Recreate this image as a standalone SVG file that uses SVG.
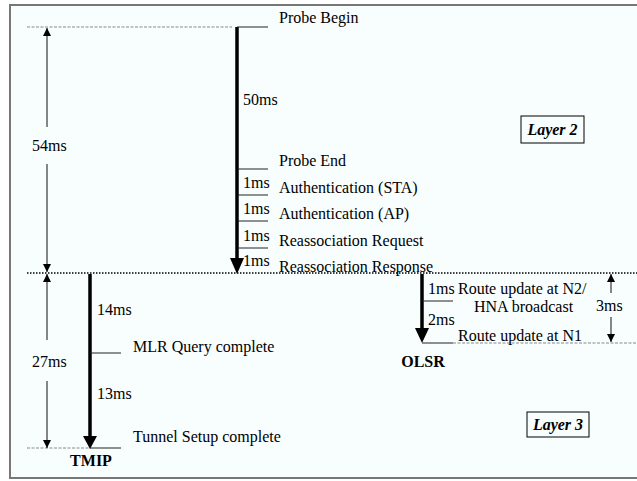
<svg xmlns="http://www.w3.org/2000/svg" width="637" height="481" viewBox="0 0 637 481" font-family="'Liberation Serif', 'Times New Roman', serif">
<defs>
<style>
text{font-family:'Liberation Serif','Times New Roman',serif;font-size:16px;fill:#000}
.b{font-weight:bold}
.bi{font-weight:bold;font-style:italic}
.tick{stroke:#222;stroke-width:1}
.dash{stroke:#888;stroke-width:1;stroke-dasharray:3,1.5}
.dim{stroke:#111;stroke-width:1;fill:none}
.thick{stroke:#000;stroke-width:3.5}
</style>
<marker id="dimHead" viewBox="0 0 8 10" refX="8" refY="5" markerWidth="8" markerHeight="10" markerUnits="userSpaceOnUse" orient="auto">
<path d="M0,1 L8,5 L0,9 Z" fill="#000"/>
</marker>
</defs>
<rect x="0" y="0" width="637" height="481" fill="#fff"/>
<rect x="10" y="5" width="640" height="473" fill="#f8fdfe" stroke="#777" stroke-width="2"/>

<g id="connectors">
<line class="dash" x1="27" y1="27" x2="232" y2="27"/>
<line x1="27" y1="273" x2="637" y2="273" stroke="#000" stroke-width="1.3" stroke-dasharray="1.5,1.5"/>
<line class="dash" x1="27" y1="448" x2="90" y2="448"/>
<line class="dash" x1="453" y1="343" x2="637" y2="343"/>
<line class="dim" x1="47" y1="127" x2="47" y2="28" marker-end="url(#dimHead)"/>
<line class="dim" x1="47" y1="164" x2="47" y2="272" marker-end="url(#dimHead)"/>
<line class="dim" x1="47" y1="340" x2="47" y2="274" marker-end="url(#dimHead)"/>
<line class="dim" x1="47" y1="381" x2="47" y2="448" marker-end="url(#dimHead)"/>
<line class="dim" x1="611" y1="293" x2="611" y2="274" marker-end="url(#dimHead)"/>
<line class="dim" x1="611" y1="317" x2="611" y2="342" marker-end="url(#dimHead)"/>
</g>

<g id="layer2-timeline">
<line class="thick" x1="237" y1="27" x2="237" y2="260"/>
<path d="M230,258 L244,258 L237,274 Z" fill="#000"/>
<line class="tick" x1="237" y1="27" x2="268" y2="27"/>
<line class="tick" x1="238" y1="169" x2="268" y2="169"/>
<line class="tick" x1="238" y1="195" x2="268" y2="195"/>
<line class="tick" x1="238" y1="221" x2="268" y2="221"/>
<line class="tick" x1="238" y1="248" x2="268" y2="248"/>
<text x="279" y="23">Probe Begin</text>
<text x="243" y="105">50ms</text>
<text x="279" y="166">Probe End</text>
<text x="243" y="188">1ms</text>
<text x="279" y="193">Authentication (STA)</text>
<text x="243" y="214">1ms</text>
<text x="279" y="219">Authentication (AP)</text>
<text x="243" y="241">1ms</text>
<text x="279" y="246">Reassociation Request</text>
<text x="243" y="266">1ms</text>
<text x="279" y="272">Reassociation Response</text>
</g>

<g id="dim-54ms"><text x="32" y="151">54ms</text></g>
<g id="dim-27ms"><text x="32" y="367">27ms</text></g>
<g id="dim-3ms"><text x="596" y="311">3ms</text></g>

<g id="layer2-label">
<rect x="521" y="116" width="63" height="27" fill="none" stroke="#000" stroke-width="1"/>
<text class="bi" x="552.5" y="135" text-anchor="middle">Layer 2</text>
</g>

<g id="tmip">
<line class="thick" x1="90" y1="274" x2="90" y2="438"/>
<path d="M83,436 L97,436 L90,449 Z" fill="#000"/>
<line class="tick" x1="90" y1="353" x2="121" y2="353"/>
<line class="tick" x1="90" y1="448" x2="121" y2="448"/>
<text x="97" y="315">14ms</text>
<text x="133" y="352">MLR Query complete</text>
<text x="97" y="399">13ms</text>
<text x="133" y="442">Tunnel Setup complete</text>
<text class="b" x="91" y="466" text-anchor="middle">TMIP</text>
</g>

<g id="olsr">
<line class="thick" x1="422" y1="274" x2="422" y2="330"/>
<path d="M415,328 L429,328 L422,343 Z" fill="#000"/>
<line class="tick" x1="422" y1="301" x2="453" y2="301"/>
<line class="tick" x1="422" y1="343" x2="453" y2="343"/>
<text x="428" y="294">1ms</text>
<text x="458" y="294">Route update at N2/</text>
<text x="474" y="312">HNA broadcast</text>
<text x="428" y="325">2ms</text>
<text x="458" y="341">Route update at N1</text>
<text class="b" x="423" y="367" text-anchor="middle">OLSR</text>
</g>

<g id="layer3-label">
<rect x="527" y="412" width="62" height="25" fill="none" stroke="#000" stroke-width="1"/>
<text class="bi" x="558" y="430" text-anchor="middle">Layer 3</text>
</g>
</svg>
